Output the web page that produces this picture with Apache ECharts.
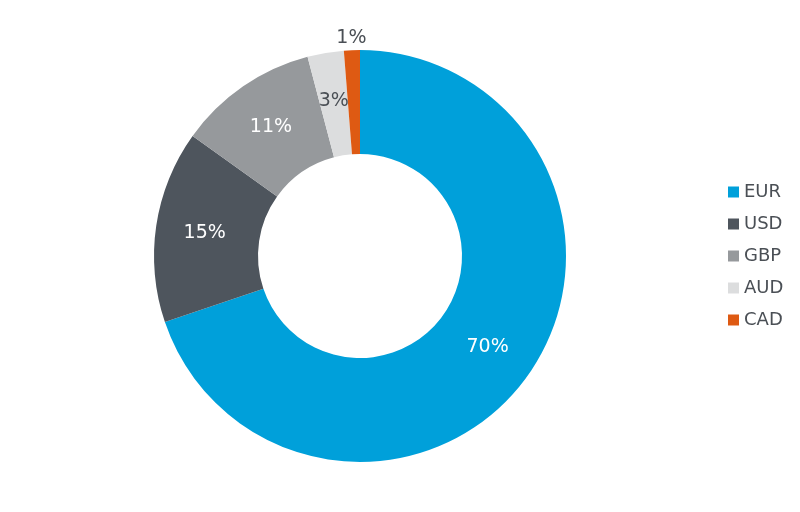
<!DOCTYPE html>
<html>
<head>
<meta charset="utf-8">
<script src="https://cdn.jsdelivr.net/npm/echarts@6/dist/echarts.min.js"></script>
<style>html,body{margin:0;padding:0;background:#fff}#chart{width:800px;height:512px}</style>
</head>
<body>
<div id="chart"></div>
<script>
const categories = ['EUR', 'USD', 'GBP', 'AUD', 'CAD'];
const values = [69.8, 15.1, 11.0, 2.85, 1.25];
const colors = ['#00A0DA', '#4E555D', '#96999C', '#DCDDDE', '#DE5A13'];
const labelColors = ['#ffffff', '#ffffff', '#ffffff', '#4A4F55', '#4A4F55'];

const chart = echarts.init(document.getElementById('chart'));
const data = categories.map((c, i) => {
  const item = {
    name: c,
    value: values[i],
    itemStyle: { color: colors[i] },
    label: { color: labelColors[i] }
  };
  if (c === 'CAD') {
    item.label = { color: labelColors[i], position: 'outside', distanceToLabelLine: 0 };
    item.labelLine = { show: false, length: 12, length2: 0 };
  }
  return item;
});
chart.setOption({
  animation: false,
  legend: {
    orient: 'vertical',
    left: 723,
    top: 'middle',
    itemWidth: 11,
    itemHeight: 11,
    itemGap: 14,
    icon: 'rect',
    data: categories,
    textStyle: { fontFamily: 'DejaVu Sans', fontSize: 18, color: '#4A4F55' }
  },
  series: [{
    type: 'pie',
    center: [360, 256],
    radius: [102, 206],
    startAngle: 90,
    clockwise: true,
    avoidLabelOverlap: false,
    data: data,
    label: {
      show: true,
      position: 'inside',
      formatter: p => Math.round(p.value) + '%',
      fontFamily: 'DejaVu Sans',
      fontSize: 19
    },
    labelLine: { show: false },
    labelLayout: p => (categories[p.dataIndex] === 'CAD' ? { align: 'center' } : {}),
    emphasis: { disabled: true }
  }]
});
</script>
</body>
</html>
